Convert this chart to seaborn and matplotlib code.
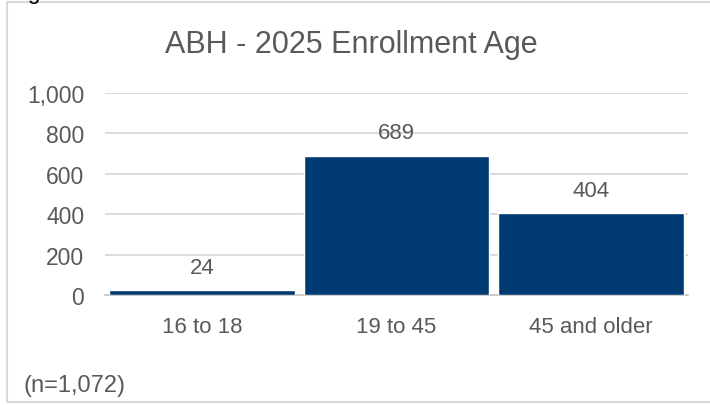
import matplotlib
matplotlib.use("Agg")
import matplotlib.pyplot as plt
import matplotlib.ticker as mticker
from matplotlib.patches import Rectangle
import seaborn as sns
import pandas as pd

# chart data
age_groups = ["16 to 18", "19 to 45", "45 and older"]
enrollment = [24, 689, 404]
title = "ABH - 2025 Enrollment Age"
note = "(n=1,072)"

BAR_COLOR = "#003A72"
TEXT_COLOR = "#595959"
GRID_COLOR = "#D9D9D9"

sns.set_theme(style="white")
plt.rcParams["font.family"] = ["Liberation Sans", "DejaVu Sans"]

df = pd.DataFrame({"age": age_groups, "count": enrollment})

fig = plt.figure(figsize=(7.1, 4.06), dpi=100)
W, H = 710, 406

# chart border (runs off the right edge like the source screenshot)
fig.patches.append(Rectangle((6.5 / W, 3.0 / H), 1.2, (403.5 - 3.0) / H,
                             transform=fig.transFigure, fill=False,
                             edgecolor=GRID_COLOR, linewidth=1.5))
# cut-off heading above the chart
fig.text(27 / W, 1 + 1 / H, "g", fontsize=16, color="black", va="baseline", ha="left")

ax = fig.add_axes([105 / W, (H - 296) / H, (688 - 105) / W, (296 - 94) / H])
sns.barplot(data=df, x="age", y="count", color=BAR_COLOR, width=0.955,
            saturation=1, ax=ax, zorder=3)

ax.set_ylim(0, 1000)
ax.set_xlim(-0.5, 2.5)
ax.yaxis.set_major_locator(mticker.MultipleLocator(200))
ax.yaxis.set_major_formatter(mticker.FuncFormatter(lambda v, p: f"{int(v):,}"))
ax.grid(axis="y", color=GRID_COLOR, linewidth=1.3, zorder=0)
ax.set_axisbelow(True)
for side in ["top", "right", "left"]:
    ax.spines[side].set_visible(False)
ax.spines["bottom"].set_color("#C8C8C8")
ax.spines["bottom"].set_linewidth(1.3)
ax.tick_params(axis="both", length=0, colors=TEXT_COLOR)
ax.tick_params(axis="y", pad=15, labelsize=16.5)
ax.tick_params(axis="x", pad=15, labelsize=16)
ax.set_xlabel("")
ax.set_ylabel("")

ax.bar_label(ax.containers[0], labels=[str(v) for v in enrollment],
             padding=9, fontsize=16, color=TEXT_COLOR)

fig.text(351 / W, (H - 45) / H, title, fontsize=22, color=TEXT_COLOR,
         ha="center", va="center")
fig.text(24 / W, (H - 386) / H, note, fontsize=17, color=TEXT_COLOR,
         ha="left", va="center")

fig.savefig("out.png", dpi=100)
